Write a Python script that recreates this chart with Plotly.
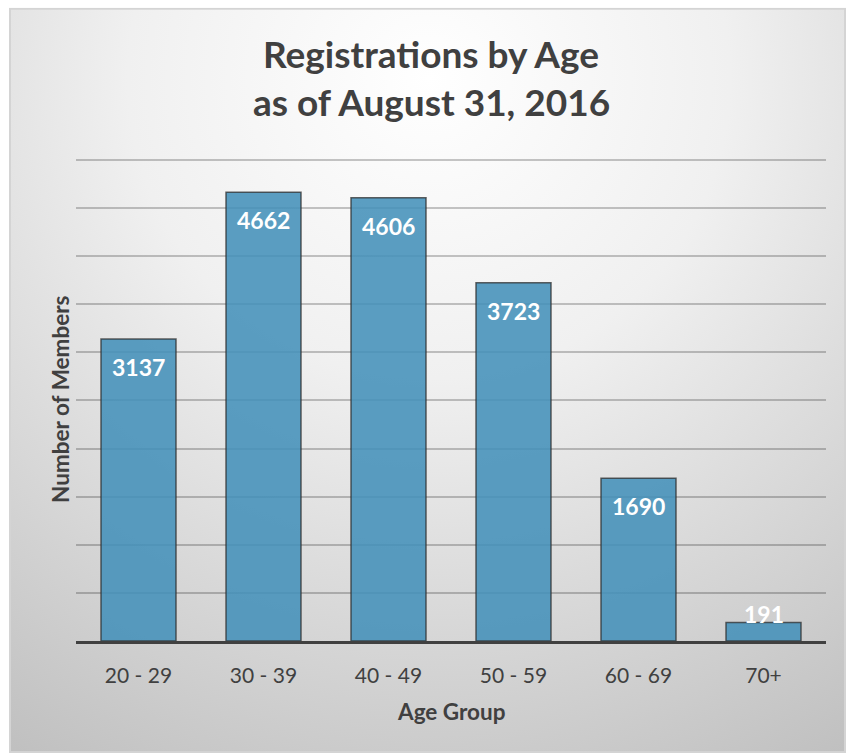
import plotly.graph_objects as go
from urllib.parse import quote

categories = ["20 - 29", "30 - 39", "40 - 49", "50 - 59", "60 - 69", "70+"]
members = [3137, 4662, 4606, 3723, 1690, 191]
title_lines = ["Registrations by Age", "as of August 31, 2016"]
y_max = 5000
y_step = 500
y_top = 5060

W, H = 846, 753
L, R, B = 76, 20, 112
ph = (H - B - 160) * y_top / y_max
T = H - B - ph
pw = W - L - R

TEXT = "#404040"
FONT = "Lato"

fig = go.Figure()
fig.add_trace(go.Bar(
    x=categories, y=members,
    marker=dict(color="rgba(68,145,186,0.88)",
                line=dict(color="rgba(45,45,45,0.75)", width=1.5)),
    width=0.6, hoverinfo="skip",
))

# background gradient frame
svg = ("<svg xmlns='http://www.w3.org/2000/svg' width='837' height='745'>"
       "<defs><radialGradient id='g' gradientUnits='userSpaceOnUse' cx='420' cy='70' r='860'>"
       "<stop offset='0' stop-color='#ffffff'/><stop offset='0.35' stop-color='#f0f0f0'/>"
       "<stop offset='1' stop-color='#b9b9b9'/></radialGradient></defs>"
       "<rect x='1' y='1' width='835' height='743' fill='url(#g)' stroke='#d4d4d4' stroke-width='2'/></svg>")
src = "data:image/svg+xml;charset=utf-8," + quote(svg)
fx0, fy0 = 9, 8
fig.add_layout_image(dict(
    source=src, xref="paper", yref="paper",
    x=(fx0 - L) / pw, y=1 + (T - fy0) / ph,
    sizex=(W - fx0) / pw, sizey=(H - fy0) / ph,
    xanchor="left", yanchor="top", sizing="stretch", layer="below",
))

annotations = []
px_per_unit = ph / y_top
for c, v in zip(categories, members):
    inside = v * px_per_unit > 40
    annotations.append(dict(x=c, y=v, xref="x", yref="y", text=f"<b>{v}</b>",
                            showarrow=False, yanchor="middle",
                            yshift=-28 if inside else 9,
                            font=dict(family=FONT, size=23, color="white")))

tx = (431 - L) / pw
annotations.append(dict(x=tx, y=1 + (T - 54) / ph, xref="paper", yref="paper",
                        text=f"<b>{title_lines[0]}</b>", showarrow=False, yanchor="middle",
                        font=dict(family=FONT, size=37, color=TEXT)))
annotations.append(dict(x=tx, y=1 + (T - 102) / ph, xref="paper", yref="paper",
                        text=f"<b>{title_lines[1]}</b>", showarrow=False, yanchor="middle",
                        font=dict(family=FONT, size=37, color=TEXT)))
annotations.append(dict(x=(61 - L) / pw, y=(H - B - 400) / ph, xref="paper", yref="paper",
                        text="<b>Number of Members</b>", showarrow=False, textangle=-90,
                        xanchor="center", yanchor="middle",
                        font=dict(family=FONT, size=22.5, color=TEXT)))
annotations.append(dict(x=(451 - L) / pw, y=-(711 - (H - B)) / ph, xref="paper", yref="paper",
                        text="<b>Age Group</b>", showarrow=False, yanchor="middle",
                        font=dict(family=FONT, size=22.5, color=TEXT)))

fig.update_layout(
    width=W, height=H,
    margin=dict(l=L, r=R, t=T, b=B),
    paper_bgcolor="white", plot_bgcolor="rgba(0,0,0,0)",
    showlegend=False, bargap=0.4,
    annotations=annotations,
    font=dict(family=FONT, color=TEXT),
)
fig.update_xaxes(showline=True, linecolor=TEXT, linewidth=3, showgrid=False,
                 tickfont=dict(family=FONT, size=21, color=TEXT), ticks="",
                 ticklabelstandoff=14)
fig.update_yaxes(range=[0, y_top], dtick=y_step, showticklabels=False, ticks="",
                 showgrid=True, gridcolor="rgba(0,0,0,0.22)", gridwidth=1.5,
                 zeroline=False)

fig.write_html("out.html")
